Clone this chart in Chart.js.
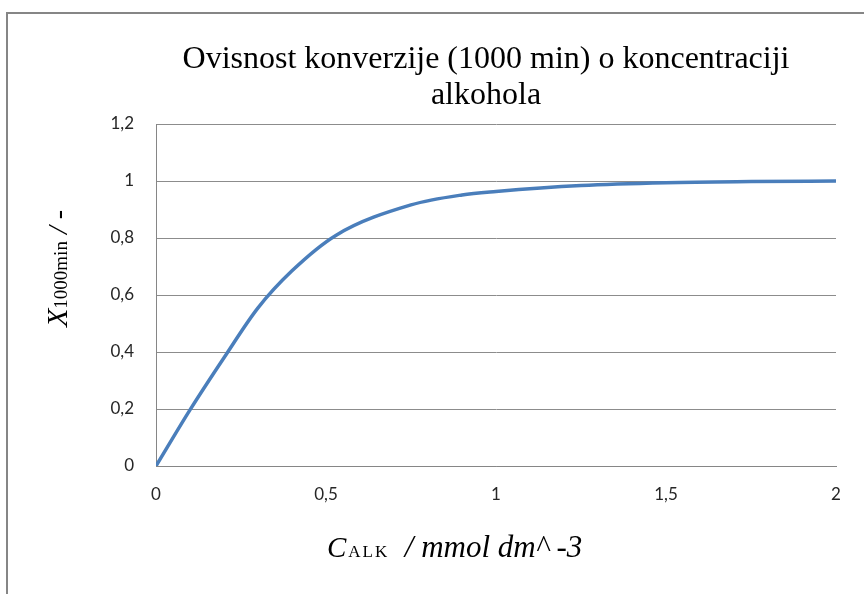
<!DOCTYPE html>
<html>
<head>
<meta charset="utf-8">
<script src="https://cdn.jsdelivr.net/npm/chart.js@4.4.1/dist/chart.umd.min.js"></script>
<style>
  html, body { margin: 0; padding: 0; background: #ffffff; overflow: hidden; }
  #frame { position: absolute; left: 6px; top: 12px; width: 900px; height: 620px;
           border-top: 2px solid #868686; border-left: 2px solid #868686; }
  #wrap { position: absolute; left: 0; top: 0; width: 864px; height: 594px; }
</style>
</head>
<body>
<div id="frame"></div>
<div id="wrap"><canvas id="c" width="864" height="594"></canvas></div>
<script>
// ---- data ----
const concentration = [0, 0.1, 0.2, 0.3, 0.4, 0.53, 0.75, 0.9, 1.0, 1.25, 1.5, 1.75, 2.0];
const conversion    = [0, 0.197, 0.38, 0.555, 0.685, 0.81, 0.916, 0.951, 0.963, 0.984, 0.994, 0.998, 1.0];
const yTickLabels = ['0', '0,2', '0,4', '0,6', '0,8', '1', '1,2'];
const xTickLabels = ['0', '0,5', '1', '1,5', '2'];
const titleLines = ['Ovisnost konverzije (1000 min) o koncentraciji', 'alkohola'];

const points = concentration.map((x, i) => ({ x: x, y: conversion[i] }));

const textPlugin = {
  id: 'texts',
  afterDraw(chart) {
    const ctx = chart.ctx;
    ctx.save();
    ctx.fillStyle = '#000000';
    // title
    ctx.textAlign = 'center';
    ctx.textBaseline = 'alphabetic';
    ctx.font = '32px "Liberation Serif", "Times New Roman", serif';
    ctx.fillText(titleLines[0], 486, 68);
    ctx.fillText(titleLines[1], 486, 104);

    // x-axis title: C(ALK) / mmol dm^ -3
    ctx.textAlign = 'left';
    let x = 327, yb = 557;
    ctx.font = 'italic 29px "Liberation Serif", serif';
    ctx.fillText('C', x, yb); x += ctx.measureText('C').width + 2;
    ctx.font = '17px "Liberation Serif", serif';
    if ('letterSpacing' in ctx) ctx.letterSpacing = '2px';
    ctx.fillText('ALK', x, yb); x += ctx.measureText('ALK').width;
    if ('letterSpacing' in ctx) ctx.letterSpacing = '0px';
    ctx.font = 'italic 31px "Liberation Serif", serif';
    ctx.fillText('  / mmol dm^ -3', x, yb);

    // y-axis title rotated
    ctx.translate(67, 327);
    ctx.rotate(-Math.PI / 2);
    let p = 0;
    ctx.font = 'italic 30px "Liberation Serif", serif';
    ctx.fillText('X', p, 0); p += ctx.measureText('X').width;
    ctx.font = '19px "Liberation Serif", serif';
    ctx.fillText('1000min', p, 0); p += ctx.measureText('1000min').width;
    ctx.font = 'italic 28px "Liberation Serif", serif';
    ctx.fillText(' / -', p, 0);
    ctx.restore();
  }
};

new Chart(document.getElementById('c'), {
  type: 'line',
  data: {
    datasets: [{
      data: points,
      borderColor: '#4a7ebb',
      borderWidth: 3.5,
      pointRadius: 0,
      fill: false,
      cubicInterpolationMode: 'monotone'
    }]
  },
  options: {
    responsive: false,
    animation: false,
    devicePixelRatio: 1,
    layout: { padding: { left: 0, right: 28, top: 124, bottom: 0 } },
    plugins: { legend: { display: false }, title: { display: false }, tooltip: { enabled: false } },
    scales: {
      x: {
        type: 'linear', min: 0, max: 2,
        afterFit(s) { s.height = 128; },
        grid: { display: false, drawTicks: false },
        border: { display: true, color: '#868686', width: 1 },
        ticks: {
          stepSize: 0.5, padding: 18, color: '#262626',
          font: { family: 'Lato', size: 17 },
          callback: (v, i) => xTickLabels[i]
        },
        title: { display: false }
      },
      y: {
        min: 0, max: 1.2,
        afterFit(s) { s.width = 156; },
        grid: { color: '#8c8c8c', lineWidth: 1, drawTicks: false },
        border: { display: true, color: '#868686', width: 1 },
        ticks: {
          stepSize: 0.2, padding: 22, color: '#262626',
          font: { family: 'Lato', size: 17 },
          callback: (v, i) => yTickLabels[i]
        },
        title: { display: false }
      }
    }
  },
  plugins: [textPlugin]
});
</script>
</body>
</html>
